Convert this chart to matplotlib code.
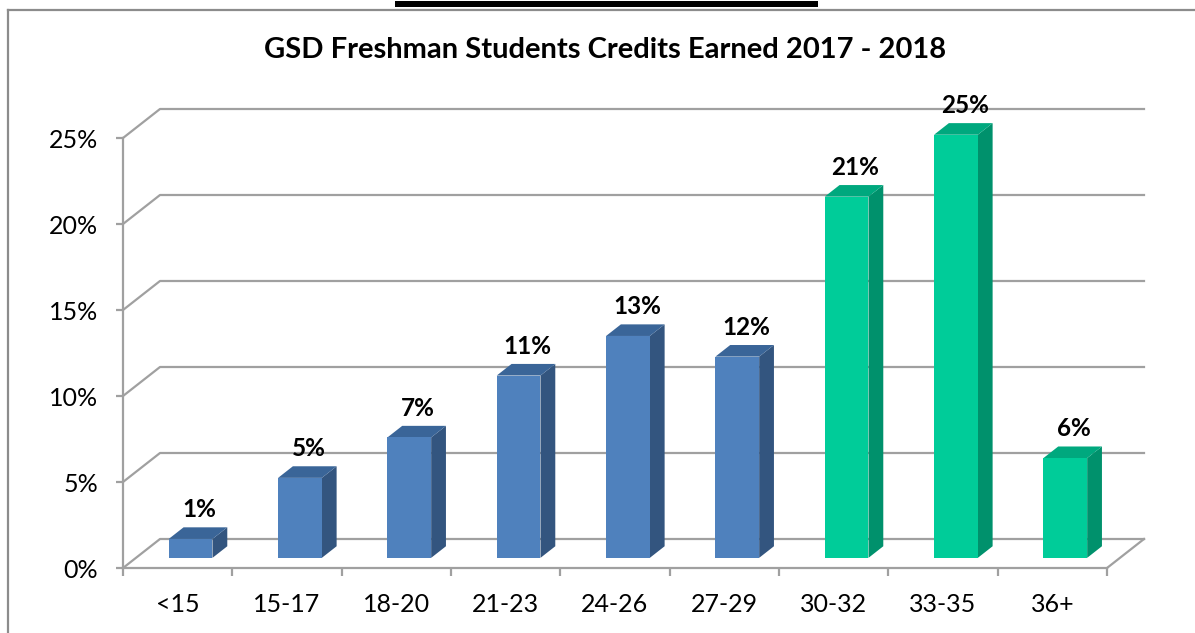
import matplotlib
matplotlib.use('Agg')
import matplotlib.pyplot as plt
from matplotlib.patches import Polygon, Rectangle
from matplotlib.lines import Line2D
from matplotlib.ticker import FuncFormatter

# Data
categories = ['<15', '15-17', '18-20', '21-23', '24-26', '27-29', '30-32', '33-35', '36+']
values = [1.1, 4.65, 7.0, 10.6, 12.9, 11.7, 21.0, 24.6, 5.8]
labels = ['1%', '5%', '7%', '11%', '13%', '12%', '21%', '25%', '6%']
is_green = [False, False, False, False, False, False, True, True, True]

blue = ('#4F81BD', '#3A6598', '#33557F')   # front, top, side
green = ('#00CC99', '#00A87E', '#00916C')

plt.rcParams['font.family'] = ['Lato', 'DejaVu Sans']

fig = plt.figure(figsize=(11.95, 6.33), dpi=100)
W, H = 1195, 633
ax = fig.add_axes([123 / W, (H - 568) / H, 984 / W, 430 / H])
ax.set_xlim(-0.5, len(categories) - 0.5)
ax.set_ylim(0, 25)

# depth offset of the fake 3d box, in data units
DX = 37 / 109.33
DY = 29 / 17.2
d1, d2 = 0.35, 0.75
bw = 0.4
grid_c = '#A0A0A0'

# side wall + back wall gridlines
for g in range(0, 30, 5):
    ax.plot([-0.5, -0.5 + DX, 8.5 + DX], [g, g + DY, g + DY],
            color=grid_c, lw=1.6, zorder=1, clip_on=False)
# floor right edge
ax.plot([8.5, 8.5 + DX], [0, DY], color=grid_c, lw=1.6, zorder=1, clip_on=False)

for i, v in enumerate(values):
    front, top, side = green if is_green[i] else blue
    x0, x1 = i - bw / 2, i + bw / 2
    ax.add_patch(Polygon([(x1 + d1 * DX, d1 * DY), (x1 + d2 * DX, d2 * DY),
                          (x1 + d2 * DX, v + d2 * DY), (x1 + d1 * DX, v + d1 * DY)],
                         closed=True, fc=side, ec='none', zorder=3, clip_on=False))
    ax.add_patch(Polygon([(x0 + d1 * DX, v + d1 * DY), (x1 + d1 * DX, v + d1 * DY),
                          (x1 + d2 * DX, v + d2 * DY), (x0 + d2 * DX, v + d2 * DY)],
                         closed=True, fc=top, ec='none', zorder=3, clip_on=False))
    ax.add_patch(Rectangle((x0 + d1 * DX, d1 * DY), bw, v,
                           fc=front, ec='none', zorder=4, clip_on=False))
    ax.text(i + 0.2, v + 2.3, labels[i], ha='center', va='center',
            fontsize=17.5, fontweight='bold', zorder=5)

# axes, ticks and labels
for s in ['top', 'right']:
    ax.spines[s].set_visible(False)
for s in ['left', 'bottom']:
    ax.spines[s].set_color(grid_c)
    ax.spines[s].set_linewidth(1.6)
ax.set_facecolor('none')
ax.set_yticks(range(0, 30, 5))
ax.yaxis.set_major_formatter(FuncFormatter(lambda y, p: f'{int(y)}%'))
ax.tick_params(axis='y', length=5, width=1.6, color=grid_c, pad=13, labelsize=18)
ax.set_xticks([k - 0.5 for k in range(len(categories) + 1)])
ax.set_xticklabels([])
ax.set_xticks(range(len(categories)), minor=True)
ax.set_xticklabels(categories, minor=True)
ax.tick_params(axis='x', which='major', length=6, width=1.6, color=grid_c)
ax.tick_params(axis='x', which='minor', length=0, pad=18, labelsize=18)

fig.text(605 / W, 1 - 50 / H, 'GSD Freshman Students Credits Earned 2017 - 2018',
         ha='center', va='center', fontsize=21, fontweight='bold')

# outer frame and the black rule at the top
fig.add_artist(Line2D([8 / W, 8 / W], [0, 1 - 10 / H], color='#8C8C8C', lw=1.6))
fig.add_artist(Line2D([8 / W, 1], [1 - 10 / H, 1 - 10 / H], color='#8C8C8C', lw=1.6))
fig.add_artist(Rectangle((395 / W, 1 - 7 / H), 423 / W, 6 / H, fc='black', ec='none'))

fig.savefig('out.png', dpi=100)
